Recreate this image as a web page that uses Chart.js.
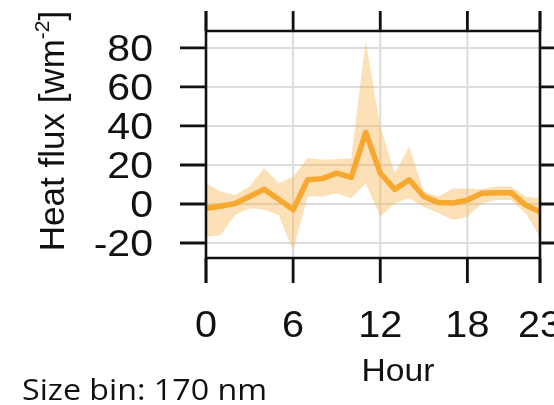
<!DOCTYPE html>
<html>
<head>
<meta charset="utf-8">
<script src="https://cdn.jsdelivr.net/npm/chart.js@4.4.1/dist/chart.umd.min.js"></script>
<style>
  html, body { margin: 0; padding: 0; background: #ffffff; }
  #wrap { position: relative; width: 554px; height: 405px; }
</style>
</head>
<body>
<div id="wrap"><canvas id="c" width="554" height="405"></canvas></div>
<script>
// Hourly heat flux for the 170 nm size bin: mean and its spread
const hours = [0,1,2,3,4,5,6,7,8,9,10,11,12,13,14,15,16,17,18,19,20,21,22,23];
const meanFlux  = [-2.2,-1.2,0.2,3.8,7.5,2.4,-3,12.4,13,15.8,13.6,36.7,15.8,7.5,12.4,3.8,0.7,0.5,2,5.5,5.8,5.8,-0.5,-4];
const upperFlux = [10.6,6.4,4.6,8.9,18.4,10.6,14,23.5,22.7,23,23.5,83.6,39.8,15.8,29.5,6.4,3.8,8,8,7.5,8.9,8.9,3.8,3];
const lowerFlux = [-16.8,-16,-5.7,-2.2,-3,-5.7,-23.7,3.8,3.8,5.5,3,10.6,-6.5,0.3,3,-1.4,-4.8,-8.2,-6.5,0.3,2,2,-4.8,-16.8];
const xTicks = [0, 6, 12, 18, 23];
const yTicks = [-20, 0, 20, 40, 60, 80];

const pts = arr => hours.map((h, i) => ({ x: h, y: arr[i] }));
const ORANGE = '#f7a21b';
const BAND = 'rgba(247, 178, 76, 0.40)';
const FONT = '"Liberation Sans", Arial, sans-serif';

// draw text widened horizontally by factor sx, anchored at (x, y)
function wideText(ctx, text, x, y, sx) {
  ctx.save();
  ctx.translate(x, y);
  ctx.scale(sx, 1);
  ctx.fillText(text, 0, 0);
  ctx.restore();
}

// Light grid, heavy frame with outward ticks, labels and titles
const framePlugin = {
  id: 'frame',
  beforeDatasetsDraw(chart) {
    const { ctx, chartArea: a, scales: { x, y } } = chart;
    ctx.save();
    ctx.strokeStyle = '#dcdcdc';
    ctx.lineWidth = 2;
    yTicks.forEach(v => {
      const py = y.getPixelForValue(v);
      ctx.beginPath(); ctx.moveTo(a.left, py); ctx.lineTo(a.right, py); ctx.stroke();
    });
    [6, 12, 18].forEach(v => {
      const px = x.getPixelForValue(v);
      ctx.beginPath(); ctx.moveTo(px, a.top); ctx.lineTo(px, a.bottom); ctx.stroke();
    });
    ctx.restore();
  },
  afterDraw(chart) {
    const { ctx, chartArea: a, scales: { x, y } } = chart;
    ctx.save();
    ctx.strokeStyle = '#111111';
    ctx.lineWidth = 2.6;
    // frame: verticals run past the box to the tick ends
    ctx.beginPath();
    ctx.moveTo(a.left, a.top - 20); ctx.lineTo(a.left, a.bottom + 25);
    ctx.moveTo(a.right, a.top - 20); ctx.lineTo(a.right, a.bottom + 25);
    ctx.moveTo(a.left, a.top); ctx.lineTo(a.right, a.top);
    ctx.moveTo(a.left, a.bottom); ctx.lineTo(a.right, a.bottom);
    ctx.stroke();
    // outward ticks
    ctx.lineWidth = 2.8;
    ctx.beginPath();
    xTicks.forEach(v => {
      const px = x.getPixelForValue(v);
      ctx.moveTo(px, a.top - 20); ctx.lineTo(px, a.top);
      ctx.moveTo(px, a.bottom); ctx.lineTo(px, a.bottom + 25);
    });
    yTicks.forEach(v => {
      const py = y.getPixelForValue(v);
      ctx.moveTo(a.left - 26, py); ctx.lineTo(a.left, py);
      ctx.moveTo(a.right, py); ctx.lineTo(a.right + 20, py);
    });
    ctx.stroke();

    // tick labels
    ctx.fillStyle = '#111111';
    ctx.font = '36px ' + FONT;
    ctx.textAlign = 'right';
    ctx.textBaseline = 'alphabetic';
    yTicks.forEach(v => wideText(ctx, String(v), 153, y.getPixelForValue(v) + 13, 1.14));
    ctx.textAlign = 'center';
    xTicks.forEach(v => wideText(ctx, String(v), x.getPixelForValue(v), 337, 1.1));

    // x title
    ctx.font = '32px ' + FONT;
    wideText(ctx, 'Hour', 398, 381, 1.05);

    // y title with superscript
    ctx.translate(52, 131);
    ctx.rotate(-Math.PI / 2);
    ctx.textAlign = 'left';
    ctx.textBaseline = 'alphabetic';
    const main = 'Heat flux [wm';
    ctx.font = '35px ' + FONT;
    const wMain = ctx.measureText(main).width;
    ctx.font = '21px ' + FONT;
    const wSup = ctx.measureText('-2').width;
    ctx.font = '35px ' + FONT;
    const wEnd = ctx.measureText(']').width;
    const total = wMain + wSup + wEnd;
    let cx = -total / 2;
    const base = 12;
    ctx.fillText(main, cx, base); cx += wMain;
    ctx.font = '21px ' + FONT;
    ctx.fillText('-2', cx, base - 15); cx += wSup;
    ctx.font = '35px ' + FONT;
    ctx.fillText(']', cx, base);
    ctx.restore();

    // size-bin note
    ctx.save();
    ctx.fillStyle = '#111111';
    ctx.font = '30px "Open Sans", sans-serif';
    ctx.textAlign = 'left';
    ctx.textBaseline = 'alphabetic';
    const noteW = ctx.measureText('Size bin: 170 nm').width;
    wideText(ctx, 'Size bin: 170 nm', 22, 400, 245 / noteW);
    ctx.restore();
  }
};

new Chart(document.getElementById('c'), {
  type: 'line',
  data: {
    datasets: [
      { data: pts(lowerFlux), borderWidth: 0, pointRadius: 0, fill: false, tension: 0 },
      { data: pts(upperFlux), borderWidth: 0, pointRadius: 0, fill: '-1', backgroundColor: BAND, tension: 0 },
      { data: pts(meanFlux), borderColor: ORANGE, borderWidth: 5.5, pointRadius: 0, fill: false, tension: 0, borderJoinStyle: 'round', borderCapStyle: 'round' }
    ]
  },
  options: {
    responsive: false,
    animation: false,
    events: [],
    layout: { padding: { left: 206, right: 14, top: 31, bottom: 147 } },
    plugins: { legend: { display: false }, tooltip: { enabled: false } },
    scales: {
      x: { type: 'linear', min: 0, max: 23, display: false },
      y: { type: 'linear', min: -27.7, max: 88.7, display: false }
    }
  },
  plugins: [framePlugin]
});
</script>
</body>
</html>
